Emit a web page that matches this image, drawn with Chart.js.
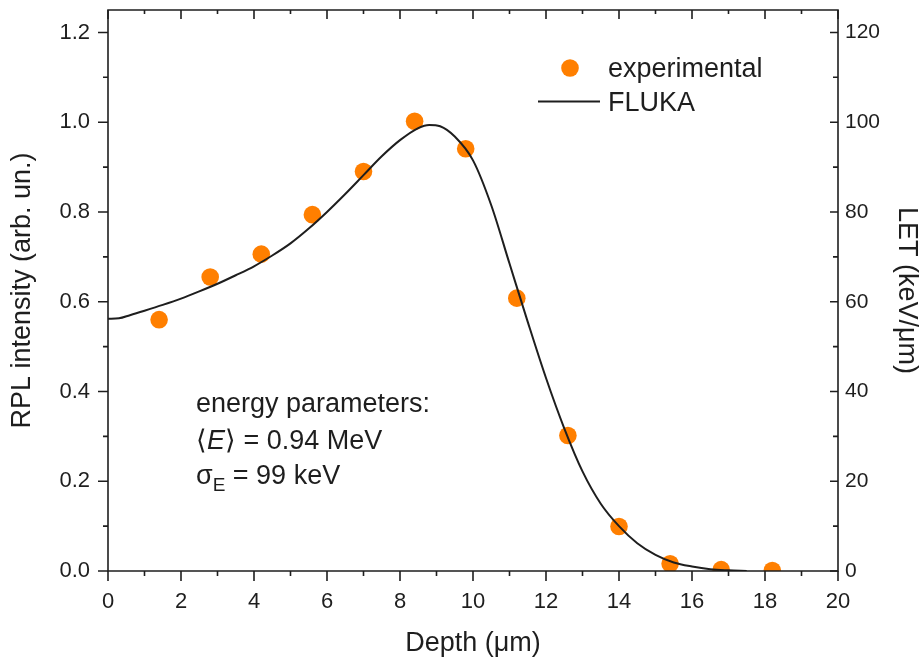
<!DOCTYPE html>
<html><head><meta charset="utf-8">
<script src="https://cdn.jsdelivr.net/npm/chart.js@4.4.1/dist/chart.umd.min.js"></script>
<style>html,body{margin:0;padding:0;background:#fff}</style>
</head><body>
<canvas id="c" width="920" height="661" style="display:block"></canvas>
<script>
// ---- data ----
const depthExp = [1.4, 2.8, 4.2, 5.6, 7.0, 8.4, 9.8, 11.2, 12.6, 14.0, 15.4, 16.8, 18.2];
const rplExp   = [0.560, 0.655, 0.706, 0.794, 0.890, 1.002, 0.941, 0.608, 0.302, 0.099, 0.016, 0.003, 0.001];
const depthFluka = [0, 0.3, 0.6, 1, 1.5, 2, 2.5, 3, 3.5, 4, 4.5, 5, 5.5, 6, 6.5, 7, 7.5, 8, 8.5, 8.8, 9.1, 9.5, 10, 10.5, 11, 11.5, 12, 12.5, 13, 13.5, 14, 14.5, 15, 15.5, 16, 16.5, 17, 17.5];
const letFluka   = [56.2, 56.3, 57.0, 58.0, 59.3, 60.7, 62.3, 64.0, 65.9, 67.9, 70.3, 73.0, 76.3, 80.0, 84.0, 88.2, 92.4, 96.0, 98.7, 99.4, 99.1, 96.8, 91.5, 81.5, 68.5, 55.5, 43.0, 31.8, 22.2, 15.0, 10.0, 6.2, 3.6, 1.9, 1.0, 0.4, 0.15, 0.0];
const xMajor  = [0, 2, 4, 6, 8, 10, 12, 14, 16, 18, 20];
const xMinor  = [1, 3, 5, 7, 9, 11, 13, 15, 17, 19];
const yMajor  = [0, 0.2, 0.4, 0.6, 0.8, 1.0, 1.2];
const yMinor  = [0.1, 0.3, 0.5, 0.7, 0.9, 1.1];
const y1Major = [0, 20, 40, 60, 80, 100, 120];
const y1Minor = [10, 30, 50, 70, 90, 110];

const FONT = '"Liberation Sans", Arial, sans-serif';
const INK = '#1e1e1e';
const ORANGE = '#ff7f00';

const axesPlugin = {
  id: 'axesFrame',
  afterDatasetsDraw(chart) {
    const {ctx, chartArea: a, scales} = chart;
    ctx.save();
    ctx.strokeStyle = INK;
    ctx.lineWidth = 1.6;
    ctx.beginPath();
    ctx.rect(a.left, a.top, a.right - a.left, a.bottom - a.top);
    ctx.stroke();
    ctx.beginPath();
    const xs = scales.x, ys = scales.y, y1 = scales.y1;
    xMajor.forEach(v => { const p = xs.getPixelForValue(v);
      ctx.moveTo(p, a.bottom); ctx.lineTo(p, a.bottom + 10);
      ctx.moveTo(p, a.top); ctx.lineTo(p, a.top + 9); });
    xMinor.forEach(v => { const p = xs.getPixelForValue(v);
      ctx.moveTo(p, a.bottom); ctx.lineTo(p, a.bottom + 5);
      ctx.moveTo(p, a.top); ctx.lineTo(p, a.top + 4); });
    yMajor.forEach(v => { const p = ys.getPixelForValue(v);
      ctx.moveTo(a.left, p); ctx.lineTo(a.left - 10, p); });
    yMinor.forEach(v => { const p = ys.getPixelForValue(v);
      ctx.moveTo(a.left, p); ctx.lineTo(a.left - 5, p); });
    y1Major.forEach(v => { const p = y1.getPixelForValue(v);
      ctx.moveTo(a.right, p); ctx.lineTo(a.right - 8, p); });
    y1Minor.forEach(v => { const p = y1.getPixelForValue(v);
      ctx.moveTo(a.right, p); ctx.lineTo(a.right - 5, p); });
    ctx.stroke();
    ctx.restore();
  }
};

const notesPlugin = {
  id: 'notes',
  afterDraw(chart) {
    const {ctx} = chart;
    ctx.save();
    ctx.fillStyle = INK;
    ctx.textBaseline = 'alphabetic';
    ctx.textAlign = 'left';
    const f = '27px ' + FONT, fi = 'italic 27px ' + FONT, fs = '19px ' + FONT;
    // legend
    ctx.beginPath();
    ctx.fillStyle = ORANGE;
    ctx.arc(570, 68, 8.8, 0, Math.PI * 2);
    ctx.fill();
    ctx.strokeStyle = INK; ctx.lineWidth = 2;
    ctx.beginPath(); ctx.moveTo(538, 101.5); ctx.lineTo(600, 101.5); ctx.stroke();
    ctx.fillStyle = INK;
    ctx.font = f;
    ctx.fillText('experimental', 608, 77);
    ctx.fillText('FLUKA', 608, 111);
    // energy parameters
    let x = 196;
    ctx.fillText('energy parameters:', x, 412);
    ctx.font = f; ctx.fillText('\u27E8', x, 449); x += ctx.measureText('\u27E8').width;
    ctx.font = fi; ctx.fillText('E', x, 449); x += ctx.measureText('E').width;
    ctx.font = f; ctx.fillText('\u27E9 = 0.94 MeV', x, 449);
    x = 196;
    ctx.font = f; ctx.fillText('\u03C3', x, 484); x += ctx.measureText('\u03C3').width;
    ctx.font = fs; ctx.fillText('E', x, 491); x += ctx.measureText('E').width;
    ctx.font = f; ctx.fillText(' = 99 keV', x, 484);
    ctx.restore();
  }
};

const noPadV = s => { s.paddingTop = 0; s.paddingBottom = 0; };
const tickFont = {family: FONT, size: 22};
new Chart(document.getElementById('c'), {
  type: 'line',
  data: {
    datasets: [
      {
        label: 'FLUKA',
        data: depthFluka.map((d, i) => ({x: d, y: letFluka[i]})),
        yAxisID: 'y1',
        borderColor: INK,
        borderWidth: 2,
        pointRadius: 0,
        cubicInterpolationMode: 'monotone',
        fill: false,
        order: 0,
        clip: 0
      },
      {
        label: 'experimental',
        data: depthExp.map((d, i) => ({x: d, y: rplExp[i]})),
        yAxisID: 'y',
        showLine: false,
        pointRadius: 8.8,
        pointBackgroundColor: ORANGE,
        pointBorderWidth: 0,
        borderColor: ORANGE,
        order: 1,
        clip: 0
      }
    ]
  },
  options: {
    responsive: false,
    animation: false,
    devicePixelRatio: 1,
    layout: {padding: {top: 10, left: 0, right: 0, bottom: 0}},
    plugins: {legend: {display: false}, tooltip: {enabled: false}},
    scales: {
      x: {
        type: 'linear', min: 0, max: 20, position: 'bottom',
        afterBuildTicks: s => { s.ticks = xMajor.map(v => ({value: v})); },
        afterFit: s => { s.height = 90; s.paddingLeft = 0; s.paddingRight = 0; },
        grid: {display: false, drawTicks: false},
        border: {display: false},
        ticks: {font: tickFont, color: INK, padding: 18, maxRotation: 0, autoSkip: false, callback: v => String(v)},
        title: {display: true, text: 'Depth (\u03BCm)', color: INK, font: {family: FONT, size: 27}, padding: {top: 0, bottom: 1}}
      },
      y: {
        type: 'linear', min: 0, max: 1.25, position: 'left',
        afterBuildTicks: s => { s.ticks = yMajor.map(v => ({value: v})); },
        afterFit: s => { s.width = 108; noPadV(s); },
        grid: {display: false, drawTicks: false},
        border: {display: false},
        ticks: {font: tickFont, color: INK, padding: 18, autoSkip: false, callback: v => v.toFixed(1)},
        title: {display: true, text: 'RPL intensity (arb. un.)', color: INK, font: {family: FONT, size: 27}, padding: {top: 6, bottom: 0}}
      },
      y1: {
        type: 'linear', min: 0, max: 125, position: 'right',
        afterBuildTicks: s => { s.ticks = y1Major.map(v => ({value: v})); },
        afterFit: s => { s.width = 82; noPadV(s); },
        grid: {display: false, drawTicks: false},
        border: {display: false},
        ticks: {font: {family: FONT, size: 21}, color: INK, padding: 7, autoSkip: false, callback: v => String(v)},
        title: {display: true, text: 'LET (keV/\u03BCm)', color: INK, font: {family: FONT, size: 27, lineHeight: 1}, padding: {top: 0, bottom: 0}}
      }
    }
  },
  plugins: [axesPlugin, notesPlugin]
});
</script>
</body></html>
